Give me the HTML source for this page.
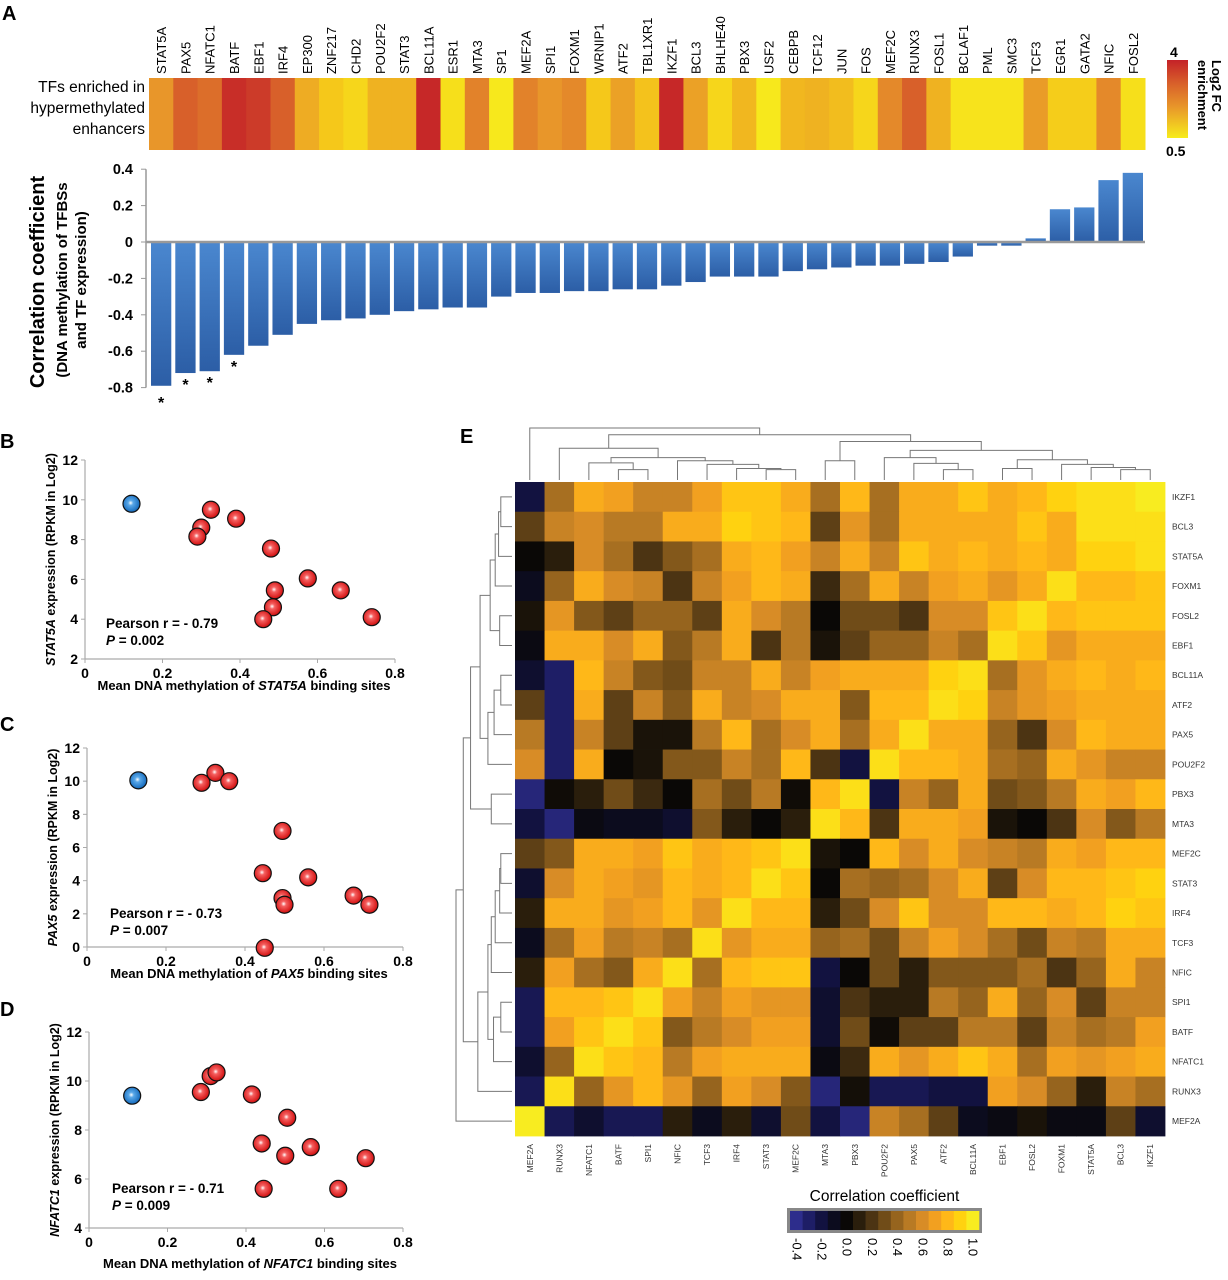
<!DOCTYPE html>
<html><head><meta charset="utf-8">
<style>
html,body{margin:0;padding:0;background:#fff;}
svg{display:block;font-family:"Liberation Sans",sans-serif;}
</style></head>
<body>
<svg id="fig" width="1228" height="1280" viewBox="0 0 1228 1280" xmlns="http://www.w3.org/2000/svg">
<defs>
<linearGradient id="barg" x1="0" y1="0" x2="0" y2="1"><stop offset="0" stop-color="#4a87cf"/><stop offset="1" stop-color="#2c5ea6"/></linearGradient>
<linearGradient id="fcg" x1="0" y1="0" x2="0" y2="1"><stop offset="0" stop-color="#c42228"/><stop offset="0.3" stop-color="#d8602a"/><stop offset="0.6" stop-color="#e8962a"/><stop offset="1" stop-color="#f7ec1c"/></linearGradient>
<radialGradient id="redball" cx="0.45" cy="0.45" r="0.6"><stop offset="0" stop-color="#ffffff"/><stop offset="0.25" stop-color="#f56060"/><stop offset="0.8" stop-color="#d81c1c"/><stop offset="1" stop-color="#a01010"/></radialGradient>
<radialGradient id="blueball" cx="0.45" cy="0.45" r="0.6"><stop offset="0" stop-color="#ffffff"/><stop offset="0.25" stop-color="#5aa8e8"/><stop offset="0.8" stop-color="#1f74c4"/><stop offset="1" stop-color="#145090"/></radialGradient>
</defs>
</svg>
<script>
// ---------- Panel A data ----------
const tfNames = ["STAT5A","PAX5","NFATC1","BATF","EBF1","IRF4","EP300","ZNF217","CHD2","POU2F2","STAT3","BCL11A","ESR1","MTA3","SP1","MEF2A","SPI1","FOXM1","WRNIP1","ATF2","TBL1XR1","IKZF1","BCL3","BHLHE40","PBX3","USF2","CEBPB","TCF12","JUN","FOS","MEF2C","RUNX3","FOSL1","BCLAF1","PML","SMC3","TCF3","EGR1","GATA2","NFIC","FOSL2"];
const log2fc = [2.2,3.0,2.8,3.8,3.6,3.0,1.8,1.3,1.0,1.7,1.7,3.9,0.8,2.5,0.6,2.5,2.2,2.4,1.3,2.0,1.4,3.9,2.0,1.0,1.6,0.6,1.6,1.7,1.5,1.0,2.4,3.0,1.7,0.7,0.7,0.7,2.1,1.2,1.2,2.4,0.8];
const corrValues = [-0.79,-0.72,-0.71,-0.62,-0.57,-0.51,-0.45,-0.43,-0.42,-0.40,-0.38,-0.37,-0.36,-0.36,-0.30,-0.28,-0.28,-0.27,-0.27,-0.26,-0.26,-0.24,-0.22,-0.19,-0.19,-0.19,-0.16,-0.15,-0.14,-0.13,-0.13,-0.12,-0.11,-0.08,-0.02,-0.02,0.02,0.18,0.19,0.34,0.38];
const significant = [1,1,1,1,0,0,0,0,0,0,0,0,0,0,0,0,0,0,0,0,0,0,0,0,0,0,0,0,0,0,0,0,0,0,0,0,0,0,0,0,0];
const barTicks = [0.4,0.2,0,-0.2,-0.4,-0.6,-0.8];
const barTickLabels = ["0.4","0.2","0","-0.2","-0.4","-0.6","-0.8"];

// ---------- Scatter data ----------
const bX = [0.12,0.30,0.29,0.325,0.39,0.48,0.575,0.66,0.74,0.49,0.485,0.46];
const bY = [9.8,8.6,8.15,9.5,9.05,7.55,6.05,5.45,4.1,5.45,4.6,4.0];
const cX = [0.13,0.29,0.325,0.36,0.495,0.445,0.56,0.495,0.50,0.675,0.715,0.45];
const cY = [10.05,9.9,10.5,10.0,7.0,4.45,4.2,2.95,2.55,3.1,2.55,-0.05];
const dX = [0.11,0.285,0.31,0.325,0.415,0.505,0.44,0.565,0.50,0.705,0.445,0.635];
const dY = [9.4,9.55,10.2,10.35,9.45,8.5,7.45,7.3,6.95,6.85,5.6,5.6];
const scatterXTicks = [0,0.2,0.4,0.6,0.8];
const bYTicks = [2,4,6,8,10,12];
const cYTicks = [0,2,4,6,8,10,12];
const dYTicks = [4,6,8,10,12];

// ---------- Heatmap E data ----------
const hmCols = ["MEF2A","RUNX3","NFATC1","BATF","SPI1","NFIC","TCF3","IRF4","STAT3","MEF2C","MTA3","PBX3","POU2F2","PAX5","ATF2","BCL11A","EBF1","FOSL2","FOXM1","STAT5A","BCL3","IKZF1"];
const hmRows = ["IKZF1","BCL3","STAT5A","FOXM1","FOSL2","EBF1","BCL11A","ATF2","PAX5","POU2F2","PBX3","MTA3","MEF2C","STAT3","IRF4","TCF3","NFIC","SPI1","BATF","NFATC1","RUNX3","MEF2A"];
const hmR0 = [-0.2,0.45,0.75,0.7,0.55,0.55,0.7,0.85,0.85,0.75,0.45,0.8,0.45,0.75,0.75,0.85,0.75,0.8,0.9,0.95,0.95,1.0];
const hmR1 = [0.25,0.55,0.6,0.5,0.5,0.75,0.75,0.9,0.85,0.8,0.25,0.65,0.45,0.75,0.75,0.75,0.75,0.85,0.75,0.95,0.95,0.95];
const hmR2 = [0.0,0.1,0.6,0.45,0.2,0.35,0.45,0.75,0.8,0.7,0.55,0.75,0.55,0.85,0.75,0.8,0.75,0.8,0.75,0.9,0.9,0.95];
const hmR3 = [-0.1,0.4,0.75,0.6,0.55,0.2,0.55,0.7,0.8,0.75,0.15,0.45,0.75,0.55,0.7,0.75,0.65,0.75,0.95,0.8,0.8,0.85];
const hmR4 = [0.05,0.65,0.35,0.25,0.4,0.4,0.25,0.75,0.6,0.5,0.0,0.3,0.3,0.2,0.6,0.6,0.85,0.95,0.8,0.85,0.85,0.85];
const hmR5 = [-0.05,0.75,0.75,0.6,0.75,0.35,0.5,0.75,0.2,0.5,0.05,0.25,0.4,0.4,0.55,0.45,0.95,0.85,0.65,0.75,0.75,0.75];
const hmR6 = [-0.15,-0.3,0.8,0.55,0.35,0.3,0.55,0.55,0.75,0.55,0.7,0.75,0.75,0.75,0.9,0.95,0.45,0.65,0.75,0.8,0.75,0.8];
const hmR7 = [0.25,-0.3,0.75,0.25,0.55,0.35,0.75,0.55,0.6,0.75,0.75,0.35,0.8,0.8,0.95,0.9,0.55,0.65,0.7,0.75,0.75,0.75];
const hmR8 = [0.5,-0.3,0.55,0.25,0.05,0.05,0.5,0.8,0.45,0.6,0.75,0.45,0.75,0.95,0.75,0.75,0.4,0.2,0.6,0.8,0.75,0.75];
const hmR9 = [0.6,-0.3,0.75,0.0,0.05,0.35,0.35,0.55,0.45,0.8,0.2,-0.2,0.95,0.8,0.8,0.75,0.45,0.4,0.75,0.65,0.55,0.55];
const hmR10 = [-0.35,0.02,0.1,0.3,0.15,0.0,0.45,0.3,0.5,0.02,0.8,0.95,-0.2,0.55,0.4,0.75,0.3,0.35,0.5,0.75,0.7,0.8];
const hmR11 = [-0.2,-0.35,-0.05,-0.1,-0.1,-0.15,0.35,0.1,0.0,0.1,0.95,0.8,0.2,0.75,0.75,0.7,0.05,0.0,0.2,0.6,0.35,0.5];
const hmR12 = [0.25,0.35,0.75,0.75,0.7,0.85,0.75,0.8,0.85,0.95,0.05,0.0,0.8,0.6,0.75,0.6,0.55,0.5,0.75,0.7,0.8,0.8];
const hmR13 = [-0.15,0.6,0.75,0.7,0.65,0.8,0.75,0.8,0.95,0.85,0.0,0.45,0.4,0.45,0.6,0.75,0.25,0.6,0.8,0.8,0.85,0.9];
const hmR14 = [0.1,0.75,0.75,0.65,0.7,0.8,0.65,0.95,0.8,0.8,0.1,0.3,0.6,0.85,0.6,0.6,0.8,0.8,0.75,0.8,0.9,0.85];
const hmR15 = [-0.1,0.45,0.7,0.5,0.55,0.45,0.95,0.65,0.75,0.75,0.4,0.45,0.3,0.55,0.7,0.6,0.45,0.3,0.55,0.5,0.75,0.75];
const hmR16 = [0.1,0.7,0.45,0.35,0.75,0.95,0.45,0.8,0.85,0.85,-0.2,0.0,0.3,0.1,0.35,0.35,0.35,0.45,0.2,0.4,0.75,0.55];
const hmR17 = [-0.25,0.8,0.8,0.85,0.95,0.7,0.55,0.7,0.65,0.65,-0.15,0.2,0.1,0.1,0.5,0.4,0.75,0.4,0.6,0.25,0.55,0.55];
const hmR18 = [-0.25,0.7,0.85,0.95,0.85,0.35,0.5,0.6,0.7,0.7,-0.15,0.3,0.02,0.25,0.25,0.5,0.5,0.25,0.55,0.45,0.5,0.7];
const hmR19 = [-0.15,0.4,0.95,0.85,0.8,0.5,0.7,0.75,0.75,0.75,-0.05,0.15,0.75,0.65,0.75,0.85,0.75,0.45,0.7,0.65,0.7,0.75];
const hmR20 = [-0.25,0.95,0.4,0.65,0.8,0.65,0.4,0.7,0.6,0.35,-0.35,0.03,-0.25,-0.25,-0.2,-0.2,0.7,0.6,0.4,0.1,0.55,0.45];
const hmR21 = [1.0,-0.25,-0.15,-0.25,-0.25,0.1,-0.1,0.1,-0.15,0.3,-0.2,-0.35,0.55,0.45,0.25,-0.1,-0.05,0.05,-0.05,-0.05,0.25,-0.15];
const hmMatrix = [hmR0,hmR1,hmR2,hmR3,hmR4,hmR5,hmR6,hmR7,hmR8,hmR9,hmR10,hmR11,hmR12,hmR13,hmR14,hmR15,hmR16,hmR17,hmR18,hmR19,hmR20,hmR21];
const cbTicks = [-0.4,-0.2,0.0,0.2,0.4,0.6,0.8,1.0];
const cbTickLabels = ["-0.4","-0.2","0.0","0.2","0.4","0.6","0.8","1.0"];
const colTree = [1.0,0,[0.87,[0.61,1,[0.43,[0.33,2,[0.2,3,4]],[0.37,5,[0.3,6,[0.22,7,[0.2,8,9]]]]]],[0.74,[0.37,10,11],[0.57,[0.43,12,[0.32,13,[0.2,14,15]]],[0.39,[0.22,16,17],[0.3,18,[0.24,19,[0.2,20,21]]]]]]]];

const NS = "http://www.w3.org/2000/svg";
const svg = document.getElementById("fig");
function mk(tag, attrs, parent){
  const e = document.createElementNS(NS, tag);
  for (const k in attrs) e.setAttribute(k, attrs[k]);
  (parent || svg).appendChild(e);
  return e;
}
function txt(s, attrs, parent){
  const e = mk("text", attrs, parent);
  e.textContent = s;
  return e;
}
function lerpHex(a,b,t){
  const pa=[1,3,5].map(i=>parseInt(a.substr(i,2),16)), pb=[1,3,5].map(i=>parseInt(b.substr(i,2),16));
  return "rgb("+pa.map((v,i)=>Math.round(v+(pb[i]-v)*t)).join(",")+")";
}
function scaleColor(v, stops){
  if (v<=stops[0][0]) return stops[0][1];
  for (let i=1;i<stops.length;i++){
    if (v<=stops[i][0]){ const t=(v-stops[i-1][0])/(stops[i][0]-stops[i-1][0]); return lerpHex(stops[i-1][1],stops[i][1],t); }
  }
  return stops[stops.length-1][1];
}
const fcStops = [[0.5,"#f7ec1c"],[1.3,"#f5c81a"],[2.2,"#e8962a"],[3.0,"#d8602a"],[4.0,"#c42228"]];
const corrStops = [[-0.4,"#2d2d8c"],[-0.3,"#1e1e66"],[-0.2,"#121240"],[-0.1,"#0c0c1e"],[0,"#0a0806"],[0.1,"#2a1e0c"],[0.2,"#4c3413"],[0.3,"#704c18"],[0.4,"#96641e"],[0.5,"#b87a24"],[0.6,"#d88c26"],[0.7,"#f2a020"],[0.8,"#ffb818"],[0.9,"#ffd210"],[1.0,"#f8ec20"]];

// ================= PANEL A =================
const gA = mk("g",{});


const lblA = txt("A",{x:2,y:20,"font-size":20,"font-weight":"bold"},gA);



const stripX0=149, stripX1=1145, stripY0=78, stripY1=150;
const colW=(stripX1-stripX0)/tfNames.length;
function colX(i){ return stripX0 + i*colW; }

const gStrip = mk("g",{},gA);


tfNames.forEach((n,i)=>{
  const r = mk("rect",{x:colX(i),y:stripY0,width:colW+0.5,height:stripY1-stripY0,fill:scaleColor(log2fc[i],fcStops)},gStrip);
  
  
  const cx = colX(i)+colW/2+5;
  const t = txt(n,{x:cx,y:74,"font-size":13,transform:"rotate(-90 "+cx+" 74)"},gA);
  
  
});
const stripTitle = ["TFs enriched in","hypermethylated","enhancers"];
const stripTitleY = [92,113,134];
stripTitle.forEach((s,i)=>{
  const t = txt(s,{x:145,y:stripTitleY[i],"font-size":15.5,"text-anchor":"end"},gA);
  
  
});
const fcBar = mk("rect",{x:1167,y:60,width:21,height:78,fill:"url(#fcg)"},gA);


const fc4 = txt("4",{x:1170,y:57,"font-size":14,"font-weight":"bold"},gA);


const fc05 = txt("0.5",{x:1166,y:156,"font-size":14,"font-weight":"bold"},gA);


const fcT1 = txt("Log2 FC",{x:1212,y:60,"font-size":13,"font-weight":"bold",transform:"rotate(90 1212 60)"},gA);


const fcT2 = txt("enrichment",{x:1198,y:60,"font-size":13,"font-weight":"bold",transform:"rotate(90 1198 60)"},gA);



function yBar(v){ return 242 - v*182; }
const gBars = mk("g",{},gA);


corrValues.forEach((v,i)=>{
  const y0=yBar(0), y1=yBar(v);
  const r = mk("rect",{x:colX(i)+2,y:Math.min(y0,y1),width:colW-4,height:Math.abs(y1-y0),fill:"url(#barg)"},gBars);
  
  
  if (significant[i]){
    const s = txt("*",{x:colX(i)+colW/2,y:y1+(i===0?22:17),"font-size":16,"font-weight":"bold","text-anchor":"middle"},gBars);
    
    
  }
});
const yAxisA = mk("line",{x1:146,y1:yBar(0.4),x2:146,y2:yBar(-0.8),stroke:"#999","stroke-width":1.5},gA);


const base = mk("line",{x1:146,y1:yBar(0),x2:1145,y2:yBar(0),stroke:"#999","stroke-width":2.5},gA);


barTicks.forEach((v,i)=>{
  const tk = mk("line",{x1:141,y1:yBar(v),x2:146,y2:yBar(v),stroke:"#999"},gA);
  
  
  const t = txt(barTickLabels[i],{x:133,y:yBar(v)+5,"font-size":14.5,"font-weight":"bold","text-anchor":"end"},gA);
  
  
});
const yt1 = txt("Correlation coefficient",{x:44,y:282,"font-size":20,"font-weight":"bold","text-anchor":"middle",transform:"rotate(-90 44 282)"},gA);


const yt2 = txt("(DNA methylation of TFBSs",{x:67,y:280,"font-size":15,"font-weight":"bold","text-anchor":"middle",transform:"rotate(-90 67 280)"},gA);


const yt3 = txt("and TF expression)",{x:86,y:280,"font-size":15,"font-weight":"bold","text-anchor":"middle",transform:"rotate(-90 86 280)"},gA);



// ================= SCATTERS =================
function scatter(cfg){
  const g = mk("g",{});
  
  
  const sx = v => cfg.x0 + (v-0)/(0.8)*(cfg.x1-cfg.x0);
  const sy = v => cfg.yb - (v-cfg.ymin)/(cfg.ymax-cfg.ymin)*(cfg.yb-cfg.yt);
  const L = txt(cfg.letter,{x:0,y:cfg.ly,"font-size":20,"font-weight":"bold"},g);
  
  
  const ax = mk("line",{x1:cfg.x0,y1:cfg.yt,x2:cfg.x0,y2:cfg.yb,stroke:"#aaa","stroke-width":1.2},g);
  
  
  const axx = mk("line",{x1:cfg.x0,y1:cfg.yb,x2:cfg.x1,y2:cfg.yb,stroke:"#aaa","stroke-width":1.2},g);
  
  
  scatterXTicks.forEach(v=>{
    const tk = mk("line",{x1:sx(v),y1:cfg.yb,x2:sx(v),y2:cfg.yb+4,stroke:"#aaa"},g);
    
    
    const t = txt(v===0?"0":String(v),{x:sx(v),y:cfg.yb+19,"font-size":14,"font-weight":"bold","text-anchor":"middle"},g);
    
    
  });
  cfg.yticks.forEach(v=>{
    const tk = mk("line",{x1:cfg.x0-4,y1:sy(v),x2:cfg.x0,y2:sy(v),stroke:"#aaa"},g);
    
    
    const t = txt(String(v),{x:cfg.x0-7,y:sy(v)+5,"font-size":14,"font-weight":"bold","text-anchor":"end"},g);
    
    
  });
  const xl = txt("",{x:(cfg.x0+cfg.x1)/2+4,y:cfg.xly,"font-size":13,"font-weight":"bold","text-anchor":"middle"},g);
  
  
  xl.innerHTML = 'Mean DNA methylation of <tspan font-style="italic">'+cfg.gene+'</tspan> binding sites';
  const yc=(cfg.yt+cfg.yb)/2;
  const yl = txt("",{x:cfg.ylx,y:yc,"font-size":12.5,"font-weight":"bold","text-anchor":"middle",transform:"rotate(-90 "+cfg.ylx+" "+yc+")"},g);
  
  
  yl.innerHTML = '<tspan font-style="italic">'+cfg.gene+'</tspan> expression (RPKM in Log2)';
  const p1 = txt("Pearson r = - "+cfg.r,{x:cfg.px,y:cfg.py,"font-size":13.5,"font-weight":"bold"},g);
  
  
  const p2 = txt("",{x:cfg.px,y:cfg.py+17,"font-size":13.5,"font-weight":"bold"},g);
  
  
  p2.innerHTML = '<tspan font-style="italic">P</tspan> = '+cfg.p;
  cfg.xs.forEach((xv,i)=>{
    const c = mk("circle",{cx:sx(xv),cy:sy(cfg.ys[i]),r:8.5,fill:i===0?"url(#blueball)":"url(#redball)",stroke:"#111","stroke-width":1.2},g);
    
    
  });
}
scatter({name:"panel-b-scatter",letter:"B",ly:448,x0:85,x1:395,yt:460,yb:659,ymin:2,ymax:12,yticks:bYTicks,xs:bX,ys:bY,gene:"STAT5A",xly:690,ylx:55,px:106,py:628,r:"0.79",p:"0.002"});
scatter({name:"panel-c-scatter",letter:"C",ly:731,x0:87,x1:403,yt:748,yb:947,ymin:0,ymax:12,yticks:cYTicks,xs:cX,ys:cY,gene:"PAX5",xly:978,ylx:57,px:110,py:918,r:"0.73",p:"0.007"});
scatter({name:"panel-d-scatter",letter:"D",ly:1016,x0:89,x1:403,yt:1032,yb:1228,ymin:4,ymax:12,yticks:dYTicks,xs:dX,ys:dY,gene:"NFATC1",xly:1268,ylx:59,px:112,py:1193,r:"0.71",p:"0.009"});

// ================= PANEL E HEATMAP =================
const gE = mk("g",{});


const lblE = txt("E",{x:460,y:443,"font-size":20,"font-weight":"bold"},gE);


const hx0=515, hx1=1165, hy0=482, hy1=1136;
const cw=(hx1-hx0)/hmCols.length, ch=(hy1-hy0)/hmRows.length;
hmMatrix.forEach((row,r)=>{
  row.forEach((v,c)=>{
    const cell = mk("rect",{x:hx0+c*cw,y:hy0+r*ch,width:cw+0.4,height:ch+0.4,fill:scaleColor(v,corrStops)},gE);
    
    
  });
});
hmRows.forEach((n,r)=>{
  const t = txt(n,{x:1172,y:hy0+(r+0.5)*ch+3,"font-size":8.5,fill:"#333"},gE);
  
  
});
hmCols.forEach((n,c)=>{
  const x=hx0+(c+0.5)*cw+3, y=1144;
  const t = txt(n,{x:x,y:y,"font-size":8.5,fill:"#333","text-anchor":"end",transform:"rotate(-90 "+x+" "+y+")"},gE);
  
  
});
function drawTree(node, leafPos, hToPos, horizontal, g){
  if (typeof node === "number") return {p:leafPos(node), h:hToPos(0)};
  const a = drawTree(node[1],leafPos,hToPos,horizontal,g);
  const b = drawTree(node[2],leafPos,hToPos,horizontal,g);
  const hp = hToPos(node[0]);
  let d;
  if (!horizontal) d = "M"+a.p+" "+a.h+"V"+hp+"H"+b.p+"V"+b.h;
  else d = "M"+a.h+" "+a.p+"H"+hp+"V"+b.p+"H"+b.h;
  const pth = mk("path",{d:d,fill:"none",stroke:"#777","stroke-width":1},g);
  
  
  return {p:(a.p+b.p)/2, h:hp};
}
const gCD = mk("g",{},gE);


drawTree(colTree, i=>hx0+(i+0.5)*cw, h=>480-h*52, false, gCD);
const gRD = mk("g",{},gE);


drawTree(colTree, i=>hy0+(21-i+0.5)*ch, h=>512-h*56, true, gRD);

const cbX0=787, cbX1=982, cbY0=1208, cbY1=1233;
const cbT = txt("Correlation coefficient",{x:(cbX0+cbX1)/2,y:1201,"font-size":15.5,"text-anchor":"middle"},gE);


const cbFrame = mk("rect",{x:cbX0,y:cbY0,width:cbX1-cbX0,height:cbY1-cbY0,fill:"#888"},gE);


const nSteps=15, inX0=cbX0+3, inX1=cbX1-3;
for (let k=0;k<nSteps;k++){
  const v = -0.4 + k*0.1;
  const r = mk("rect",{x:inX0+k*(inX1-inX0)/nSteps,y:cbY0+3,width:(inX1-inX0)/nSteps+0.3,height:cbY1-cbY0-6,fill:scaleColor(v,corrStops)},gE);
  
  
}
cbTicks.forEach((v,i)=>{
  const x = inX0 + (v+0.4)/1.4*(inX1-inX0-(inX1-inX0)/nSteps) + (inX1-inX0)/nSteps/2 - 4;
  const y = 1238;
  const t = txt(cbTickLabels[i],{x:x,y:y,"font-size":13,transform:"rotate(90 "+x+" "+y+")"},gE);
  
  
});
</script>
</body></html>
